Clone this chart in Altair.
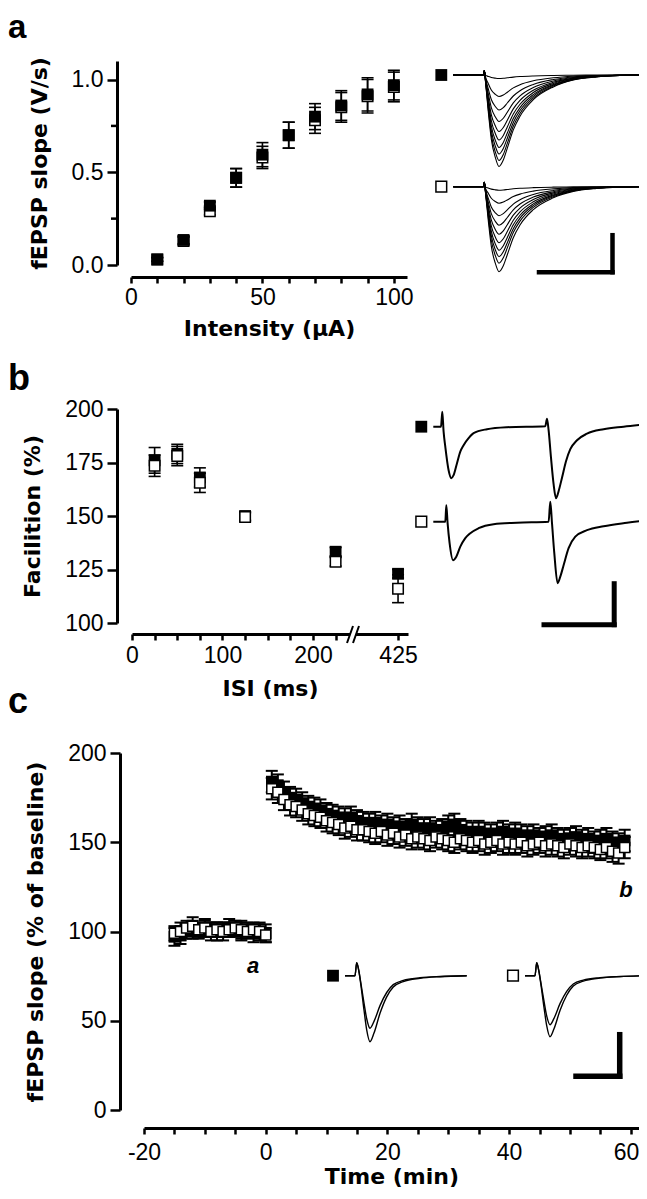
import altair as alt
import pandas as pd

# ---------------- data: panel a (input-output) ----------------
intensity = [10, 20, 30, 40, 50, 60, 70, 80, 90, 100]
a_filled = [0.03, 0.135, 0.32, 0.47, 0.595, 0.70, 0.80, 0.86, 0.92, 0.97]
a_filled_err = [0.01, 0.02, 0.02, 0.05, 0.065, 0.07, 0.07, 0.08, 0.09, 0.08]
a_open = [0.03, 0.13, 0.29, 0.47, 0.58, 0.70, 0.78, 0.85, 0.91, 0.96]
a_open_err = [0.01, 0.02, 0.02, 0.05, 0.06, 0.07, 0.07, 0.08, 0.09, 0.08]
a_minor_ticks = [0.25, 0.75]

# traces (a): common waveform shape (ms, normalised depth), stimulus artefact (mV), peak amplitudes (mV)
a_shape_t = [0, 3.0, 3.1, 3.2, 3.5, 3.8, 4.2, 4.57, 5.0, 5.4, 6.0, 6.67, 8.0, 10.0, 12.0, 14.33, 16.67, 18.67]
a_shape_n = [0, 0, 0, 0.05, 0.4, 0.7, 0.9, 1.0, 0.93, 0.8, 0.6, 0.45, 0.27, 0.13, 0.055, 0.02, 0.005, 0]
a_artifact = [0, 0, 0.09, 0, 0, 0, 0, 0, 0, 0, 0, 0, 0, 0, 0, 0, 0, 0]
a_amp_filled = [0.07, 0.43, 0.70, 0.93, 1.13, 1.30, 1.45, 1.58, 1.71, 1.83]
a_amp_open = [0.07, 0.33, 0.58, 0.77, 0.95, 1.12, 1.27, 1.40, 1.53, 1.70]
a_bar_t = [8.57, 15.92]
a_bar_v = [-1.71, -0.97]

# ---------------- data: panel b (paired-pulse) ----------------
isi = [25, 50, 75, 125, 225, 425]
b_filled = [176, 179, 168, 150, 133.3, 123]
b_filled_err = [6, 4.5, 4.5, 2, 2, 2]
b_open = [173.5, 178, 165.5, 149.5, 128.6, 116]
b_open_err = [5, 4.5, 4.5, 2, 2, 6.5]

b_tr_filled_t = [0, 0.77, 0.9, 1.03, 1.2, 1.53, 1.8, 2.03, 2.37, 2.7, 3.03, 3.53, 4.03, 5.37, 7.37,
                 11.2, 11.37, 11.53, 11.77, 12.03, 12.27, 12.53, 12.87, 13.27, 13.7, 14.37, 15.37, 17.03, 19.03, 21.37]
b_tr_filled_v = [0, 0, 0.3, -0.1, -0.4, -0.87, -1.03, -0.97, -0.73, -0.5, -0.37, -0.23, -0.13, -0.05, -0.01,
                 0.01, 0.16, -0.07, -0.62, -1.15, -1.43, -1.29, -1.02, -0.69, -0.45, -0.27, -0.14, -0.05, 0.0, 0.05]
b_tr_open_t = [0, 1.2, 1.3, 1.43, 1.63, 1.97, 2.3, 2.7, 3.2, 3.7, 4.53, 6.03, 8.37,
               11.53, 11.7, 11.87, 12.1, 12.43, 12.7, 13.03, 13.53, 14.2, 15.37, 17.03, 19.37, 21.37]
b_tr_open_v = [0, 0, 0.33, -0.03, -0.43, -0.77, -0.7, -0.5, -0.33, -0.23, -0.13, -0.05, -0.02,
               0, 0.4, -0.03, -0.63, -1.23, -1.1, -0.87, -0.53, -0.3, -0.17, -0.09, -0.02, 0.03]
b_bar_t = [11.07, 18.09]
b_bar_v = [-2.06, -1.24]

# ---------------- data: panel c (LTP time course) ----------------
t_base = list(range(-15, 1))
c_base_filled = [97, 98, 100, 101, 100, 102, 101, 100, 101, 102, 101, 100, 101, 99, 100, 99]
c_base_filled_err = [5, 5, 4, 5, 4, 5, 4, 5, 4, 5, 4, 5, 4, 5, 4, 5]
c_base_open = [99, 100, 102, 103, 101, 102, 100, 101, 100, 101, 102, 101, 100, 101, 100, 98]
c_base_open_err = [4, 5, 4, 5, 4, 4, 5, 4, 5, 4, 4, 5, 4, 4, 5, 4]
t_post = list(range(1, 60))
c_post_filled = [184, 182, 178, 175, 174, 172, 170, 169, 168, 166, 165, 164, 163, 164, 162, 161, 160, 161,
                 159, 160, 158, 159, 157, 160, 158, 157, 158, 156, 157, 159, 160, 157, 156, 155, 156, 155,
                 154, 155, 156, 154, 155, 154, 153, 154, 152, 153, 154, 152, 151, 152, 153, 151, 152, 150,
                 151, 152, 150, 149, 151]
c_post_filled_err = [6, 6, 6, 6, 6, 6, 6, 6, 6, 6, 6, 6, 6, 6, 6, 6, 6, 6, 6, 6, 6, 6, 6, 6, 6, 6, 6, 6, 6,
                     6, 6, 6, 6, 6, 6, 6, 6, 6, 6, 6, 6, 6, 6, 6, 6, 6, 6, 6, 6, 6, 6, 6, 6, 6, 6, 6, 6, 6, 6]
c_post_open = [180, 178, 174, 171, 170, 168, 166, 165, 164, 162, 161, 160, 158, 159, 157, 157, 156, 155,
               156, 154, 155, 153, 154, 152, 153, 152, 151, 153, 152, 151, 150, 152, 151, 150, 151, 149,
               150, 151, 149, 150, 149, 150, 148, 149, 150, 148, 149, 148, 147, 149, 148, 147, 148, 147,
               146, 147, 145, 144, 147]
c_post_open_err = [6, 6, 6, 6, 6, 6, 6, 6, 6, 6, 6, 6, 6, 6, 6, 6, 6, 6, 6, 6, 6, 6, 6, 6, 6, 6, 6, 6, 6,
                   6, 6, 6, 6, 6, 6, 6, 6, 6, 6, 6, 6, 6, 6, 6, 6, 6, 6, 6, 6, 6, 6, 6, 6, 6, 6, 6, 6, 6, 6]

c_shape_t = [0, 1.0, 1.17, 1.37, 1.57, 1.9, 2.17, 2.5, 2.9, 3.5, 4.17, 4.83, 5.83, 7.5, 9.5, 12.17]
c_shape_n = [0, 0, 0, 0, 0.12, 0.52, 0.82, 1.0, 0.87, 0.57, 0.32, 0.17, 0.09, 0.04, 0.015, 0]
c_artifact = [0, 0, 0.26, 0.11, 0, 0, 0, 0, 0, 0, 0, 0, 0, 0, 0, 0]
c_amp_filled = [1.05, 1.32]
c_amp_open = [0.98, 1.22]
c_bar_t = [5.1, 9.47]
c_bar_v = [-2.01, -1.18]

legend_t = -1.2

# ---------------- layout ----------------
OX, OY = 117, 61
W, H = 631 - (OX - 8), 1049
FONT = "Liberation Sans"
TFONT = "DejaVu Sans"


def lin(domain, rng):
    return alt.Scale(domain=domain, range=rng, nice=False, zero=False)


xa = lin([0, 105], [131 - OX, 407 - OX])
ya = lin([0, 1.1], [265 - OY, 61 - OY])
xb = lin([0, 305], [132 - OX, 408 - OX])
yb = lin([100, 200], [623 - OY, 409 - OY])
xc = lin([-20, 61.3], [144 - OX, 638.7 - OX])
yc = lin([0, 200], [1110 - OY, 753 - OY])


def tx(x0):
    return lin([0, 30], [x0 - OX, x0 - OX + 300])


def ty(base):
    return lin([-3, 1], [base - OY + 150, base - OY - 50])


def frame(xv, v, e):
    return pd.DataFrame({"x": xv, "v": v, "lo": [a - b for a, b in zip(v, e)],
                         "hi": [a + b for a, b in zip(v, e)]})


def err_layers(df, xs, ys, cap, sw=1.6):
    rule = alt.Chart(df).mark_rule(color="black", strokeWidth=sw).encode(
        x=alt.X("x:Q", scale=xs, axis=None), y=alt.Y("lo:Q", scale=ys, axis=None), y2="hi:Q")
    top = alt.Chart(df).mark_tick(color="black", orient="horizontal", size=cap,
                                  thickness=sw, opacity=1).encode(
        x=alt.X("x:Q", scale=xs, axis=None), y=alt.Y("hi:Q", scale=ys, axis=None))
    bot = alt.Chart(df).mark_tick(color="black", orient="horizontal", size=cap,
                                  thickness=sw, opacity=1).encode(
        x=alt.X("x:Q", scale=xs, axis=None), y=alt.Y("lo:Q", scale=ys, axis=None))
    return [rule, top, bot]


def sq_layer(df, xs, ys, filled, size):
    if filled:
        m = alt.Chart(df).mark_square(color="black", size=size, opacity=1)
    else:
        m = alt.Chart(df).mark_square(fill="white", stroke="black", strokeWidth=1.5,
                                      size=size, opacity=1)
    return m.encode(x=alt.X("x:Q", scale=xs, axis=None),
                    y=alt.Y("v:Q", scale=ys, axis=None))


def axis_layer(xs, ys, xaxis, yaxis, xdom, ydom):
    # invisible helper layer that carries the two axes of a panel
    d = pd.DataFrame({"x": xdom, "v": ydom})
    return alt.Chart(d).mark_point(opacity=0, size=1).encode(
        x=alt.X("x:Q", scale=xs, axis=xaxis), y=alt.Y("v:Q", scale=ys, axis=yaxis))


# ---------------- panel a ----------------
ax_a_x = alt.Axis(title="Intensity (µA)", values=list(range(0, 101, 10)),
                  labelExpr="datum.value % 50 === 0 ? datum.label : ''",
                  tickSize=6, labelPadding=3, titlePadding=9, offset=-833, orient="bottom")
ax_a_y = alt.Axis(title="fEPSP slope (V/s)", values=[0, 0.5, 1.0], format=".1f",
                  tickSize=10, labelPadding=4, titlePadding=20, offset=0, orient="left")
dfa_f = frame(intensity, a_filled, a_filled_err)
dfa_o = frame(intensity, a_open, a_open_err)
minor_a = alt.Chart(pd.DataFrame({"m": a_minor_ticks})).mark_rule(
    color="black", strokeWidth=2.5).encode(
    y=alt.Y("m:Q", scale=ya, axis=None), x=alt.value(-6), x2=alt.value(0))
panel_a = [axis_layer(xa, ya, ax_a_x, ax_a_y, [0, 105], [0, 1.1]),
           *err_layers(dfa_o, xa, ya, 12), *err_layers(dfa_f, xa, ya, 12),
           sq_layer(dfa_o, xa, ya, False, 110), sq_layer(dfa_f, xa, ya, True, 140), minor_a]

# ---------------- panel b ----------------
isi_pos = [v if v <= 250 else v - 131 for v in isi]   # broken axis
ax_b_x = alt.Axis(title="ISI (ms)", values=[0, 25, 50, 75, 100, 125, 150, 175, 200, 225, 294],
                  labelExpr="datum.value === 294 ? '425' : (datum.value % 100 === 0 ? datum.label : '')",
                  tickSize=6, labelPadding=4, titlePadding=11, offset=-476, orient="bottom")
ax_b_y = alt.Axis(title="Facilition (%)", values=[100, 125, 150, 175, 200],
                  tickSize=10, labelPadding=4, titlePadding=20, offset=0, orient="left")
dfb_f = frame(isi_pos, b_filled, b_filled_err)
dfb_o = frame(isi_pos, b_open, b_open_err)
panel_b = [axis_layer(xb, yb, ax_b_x, ax_b_y, [0, 305], [100, 200]),
           *err_layers(dfb_f, xb, yb, 12), sq_layer(dfb_f, xb, yb, True, 140),
           *err_layers(dfb_o, xb, yb, 12), sq_layer(dfb_o, xb, yb, False, 110)]

one = pd.DataFrame({"s": [0]})
brk = [
    alt.Chart(one).mark_rule(color="white", strokeWidth=5).encode(
        x=alt.value(350 - OX), x2=alt.value(356 - OX), y=alt.value(634 - OY)),
    alt.Chart(one).mark_rule(color="black", strokeWidth=2).encode(
        x=alt.value(347 - OX), x2=alt.value(353 - OX), y=alt.value(643 - OY), y2=alt.value(626 - OY)),
    alt.Chart(one).mark_rule(color="black", strokeWidth=2).encode(
        x=alt.value(353 - OX), x2=alt.value(359 - OX), y=alt.value(643 - OY), y2=alt.value(626 - OY)),
]

# ---------------- panel c ----------------
ax_c_x = alt.Axis(title="Time (min)", values=list(range(-20, 61, 5)),
                  labelExpr="datum.value % 20 === 0 ? '' + datum.value : ''",
                  labelAlign={"condition": {"test": "datum.value === 60", "value": "right"}, "value": "center"},
                  labelOffset={"condition": {"test": "datum.value === 60", "value": 8}, "value": 0},
                  tickSize=6, labelPadding=7, titlePadding=2, offset=18, orient="bottom")
ax_c_y = alt.Axis(title="fEPSP slope (% of baseline)", values=[0, 50, 100, 150, 200],
                  tickSize=10, labelPadding=4, titlePadding=20, offset=-3, orient="left")
dfc_f = frame(t_base + t_post, c_base_filled + c_post_filled, c_base_filled_err + c_post_filled_err)
dfc_o = frame(t_base + t_post, c_base_open + c_post_open, c_base_open_err + c_post_open_err)
panel_c = [axis_layer(xc, yc, ax_c_x, ax_c_y, [-20, 61.3], [0, 200]),
           *err_layers(dfc_f, xc, yc, 12, 2.0), sq_layer(dfc_f, xc, yc, True, 135),
           *err_layers(dfc_o, xc, yc, 12, 2.0), sq_layer(dfc_o, xc, yc, False, 100)]


# ---------------- traces ----------------
def scaled_traces(shape_t, shape_n, artifact, amps):
    rows = []
    for k, amp in enumerate(amps):
        for t, n, a in zip(shape_t, shape_n, artifact):
            rows.append({"t": t, "v": a - amp * n, "k": k})
    return pd.DataFrame(rows)


def trace_group(df, x0, base, sw, filled, bar_t=None, bar_v=None, bar_w=4.5):
    xs, ys = tx(x0), ty(base)
    lines = alt.Chart(df).mark_line(color="black", strokeWidth=sw, interpolate="monotone").encode(
        x=alt.X("t:Q", scale=xs, axis=None), y=alt.Y("v:Q", scale=ys, axis=None), detail="k:N")
    sqdf = pd.DataFrame({"x": [legend_t], "v": [0.0]})
    layers = [lines, sq_layer(sqdf, xs, ys, filled, 140 if filled else 115)]
    if bar_t is not None:
        hb = pd.DataFrame({"t0": [bar_t[0]], "t1": [bar_t[1]], "v0": [bar_v[0]], "v1": [bar_v[0]]})
        vb = pd.DataFrame({"t0": [bar_t[1]], "t1": [bar_t[1]], "v0": [bar_v[0]], "v1": [bar_v[1]]})
        for d in (hb, vb):
            layers.append(alt.Chart(d).mark_rule(color="black", strokeWidth=bar_w, strokeCap="square").encode(
                x=alt.X("t0:Q", scale=xs, axis=None), x2="t1:Q",
                y=alt.Y("v0:Q", scale=ys, axis=None), y2="v1:Q"))
    return layers


traces = (
    trace_group(scaled_traces(a_shape_t, a_shape_n, a_artifact, a_amp_filled), 453.3, 75, 1.1, True)
    + trace_group(scaled_traces(a_shape_t, a_shape_n, a_artifact, a_amp_open), 453.3, 186.7, 1.1, False,
                  a_bar_t, a_bar_v, 4.5)
    + trace_group(pd.DataFrame({"t": b_tr_filled_t, "v": b_tr_filled_v, "k": 0}), 433.3, 426.7, 2.0, True)
    + trace_group(pd.DataFrame({"t": b_tr_open_t, "v": b_tr_open_v, "k": 0}), 433.3, 521.7, 2.0, False,
                  b_bar_t, b_bar_v, 5)
    + trace_group(scaled_traces(c_shape_t, c_shape_n, c_artifact, c_amp_filled), 345, 975.7, 1.4, True)
    + trace_group(scaled_traces(c_shape_t, c_shape_n, c_artifact, c_amp_open), 525, 975.7, 1.4, False,
                  c_bar_t, c_bar_v, 5.5)
)


# ---------------- text ----------------
def label(txt, px, py, size, italic=False, align="left"):
    return alt.Chart(pd.DataFrame({"s": [txt]})).mark_text(
        font=FONT, fontSize=size, fontWeight="bold", fontStyle="italic" if italic else "normal",
        align=align, baseline="alphabetic", color="black").encode(
        text="s:N", x=alt.value(px - OX), y=alt.value(py - OY))


texts = [
    label("a", 8, 38, 33), label("b", 8, 390, 36), label("c", 8, 713, 36),
    label("a", 253, 973, 22, True, "center"), label("b", 626, 897, 22, True, "center"),
]

chart = alt.layer(
    *panel_a, *panel_b, *brk, *panel_c, *traces, *texts
).resolve_scale(x="independent", y="independent").properties(
    width=W, height=H,
    autosize=alt.AutoSizeParams(type="none"),
    padding={"left": OX - 8, "top": OY - 8, "right": 0, "bottom": 1199 - 8 - OY - H},
).configure_view(stroke=None).configure_axis(
    labelFont=FONT, labelFontSize=23, labelColor="black",
    titleFont=TFONT, titleFontSize=22, titleFontWeight="bold", titleColor="black",
    domainColor="black", domainWidth=3, tickColor="black", tickWidth=2.5,
    grid=False, labelFlush=False, labelOverlap=False,
)

chart.save("out.html", embed_options={"renderer": "svg", "actions": False})
